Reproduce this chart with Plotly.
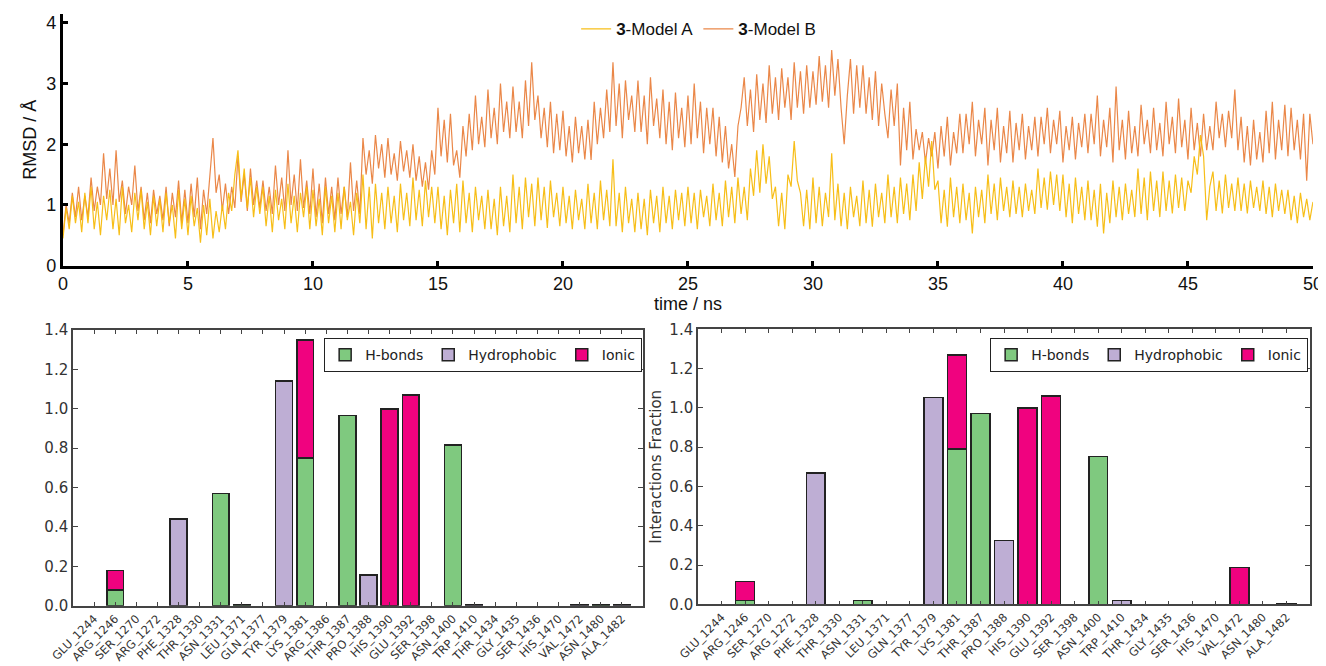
import plotly.graph_objects as go

# ---------------- RMSD time series (0.125 ns steps) ----------------
model_a_rows = [
    [0.45, 0.95, 0.6, 1.15, 0.7, 1.05, 0.55, 1.2],   # 0
    [0.7, 1.3, 0.6, 1.05, 0.5, 1.15, 0.75, 1.25],    # 1
    [0.6, 1.1, 0.5, 1.3, 0.7, 1.0, 0.55, 1.2],       # 2
    [0.75, 1.25, 0.6, 1.05, 0.5, 1.15, 0.65, 1.1],   # 3
    [0.55, 1.2, 0.7, 1.0, 0.45, 1.25, 0.6, 1.1],     # 4
    [0.5, 1.15, 0.65, 0.95, 0.38, 1.0, 0.5, 1.1],    # 5
    [0.45, 0.9, 0.55, 1.0, 0.6, 1.2, 0.9, 1.5],      # 6
    [1.9, 1.1, 1.6, 0.95, 1.45, 0.8, 1.3, 0.85],     # 7
    [1.3, 0.65, 1.15, 0.55, 1.25, 0.75, 1.1, 0.6],   # 8
    [1.35, 0.7, 1.15, 0.55, 1.2, 0.8, 1.3, 0.6],     # 9
    [1.25, 0.65, 1.1, 0.5, 1.3, 0.7, 1.15, 0.55],    # 10
    [1.2, 0.6, 1.3, 0.75, 1.05, 0.5, 1.2, 0.7],      # 11
    [1.5, 0.6, 1.3, 0.45, 1.35, 0.7, 1.2, 0.6],      # 12
    [1.3, 0.7, 1.15, 0.55, 1.35, 0.75, 1.2, 0.65],   # 13
    [1.45, 0.75, 1.25, 0.65, 1.4, 0.8, 1.3, 0.7],    # 14
    [1.3, 0.6, 1.15, 0.5, 1.25, 0.7, 1.35, 0.55],    # 15
    [1.4, 0.7, 1.2, 0.55, 1.3, 0.75, 1.15, 0.6],     # 16
    [1.25, 0.6, 1.1, 0.5, 1.3, 0.65, 1.15, 0.55],    # 17
    [1.5, 0.7, 1.3, 0.6, 1.45, 0.8, 1.35, 0.65],     # 18
    [1.45, 0.75, 1.3, 0.62, 1.4, 0.8, 1.2, 0.65],    # 19
    [1.3, 0.7, 1.15, 0.6, 1.25, 0.75, 1.1, 0.6],     # 20
    [1.35, 0.7, 1.2, 0.6, 1.4, 0.75, 1.25, 0.65],    # 21
    [1.75, 0.65, 1.2, 0.55, 1.3, 0.7, 1.1, 0.55],    # 22
    [1.2, 0.6, 1.1, 0.5, 1.25, 0.7, 1.15, 0.55],     # 23
    [1.3, 0.7, 1.15, 0.6, 1.25, 0.75, 1.2, 0.65],    # 24
    [1.3, 0.7, 1.2, 0.6, 1.25, 0.8, 1.15, 0.65],     # 25
    [1.35, 0.75, 1.2, 0.65, 1.4, 0.8, 1.3, 0.7],     # 26
    [1.45, 0.85, 1.3, 0.75, 1.6, 1.15, 1.9, 1.2],    # 27
    [2.0, 1.35, 1.8, 1.1, 1.3, 0.65, 1.2, 0.6],      # 28
    [1.5, 1.3, 2.05, 1.4, 1.2, 0.65, 1.25, 0.6],     # 29
    [1.45, 0.7, 1.3, 0.65, 1.2, 0.8, 1.85, 0.75],    # 30
    [1.35, 0.65, 1.2, 0.6, 1.3, 0.8, 1.15, 0.65],    # 31
    [1.4, 0.7, 1.25, 0.64, 1.35, 0.8, 1.2, 0.7],     # 32
    [1.5, 0.8, 1.3, 0.7, 1.45, 0.85, 1.35, 0.75],    # 33
    [1.5, 0.9, 1.7, 1.1, 1.8, 1.3, 2.05, 1.25],      # 34
    [1.4, 0.7, 1.25, 0.64, 1.45, 0.8, 1.3, 0.7],     # 35
    [1.35, 0.75, 1.2, 0.53, 1.3, 0.8, 1.25, 0.7],    # 36
    [1.5, 0.85, 1.35, 0.75, 1.45, 0.9, 1.3, 0.8],    # 37
    [1.4, 0.85, 1.3, 0.8, 1.35, 0.9, 1.25, 0.85],    # 38
    [1.6, 0.95, 1.45, 0.92, 1.55, 1.0, 1.5, 0.9],    # 39
    [1.5, 0.8, 1.35, 0.7, 1.45, 0.85, 1.3, 0.75],    # 40
    [1.4, 0.75, 1.25, 0.64, 1.35, 0.53, 1.2, 0.7],   # 41
    [1.4, 0.8, 1.3, 0.75, 1.35, 0.85, 1.25, 0.8],    # 42
    [1.6, 0.85, 1.45, 0.75, 1.55, 0.9, 1.4, 0.8],    # 43
    [1.55, 0.9, 1.4, 0.86, 1.5, 0.95, 1.45, 0.9],    # 44
    [1.4, 1.2, 1.8, 1.5, 2.15, 1.8, 0.75, 1.3],      # 45
    [1.55, 0.9, 1.4, 0.86, 1.5, 0.95, 1.35, 0.9],    # 46
    [1.45, 0.9, 1.35, 0.86, 1.4, 0.95, 1.3, 0.9],    # 47
    [1.4, 0.85, 1.3, 0.8, 1.35, 0.9, 1.25, 0.85],    # 48
    [1.25, 0.75, 1.15, 0.7, 1.2, 0.8, 1.1, 0.75],    # 49
    [1.05],                                          # 50
]
model_b_rows = [
    [0.5, 1.0, 0.7, 1.2, 0.8, 1.3, 0.75, 1.15],      # 0
    [0.8, 1.45, 0.9, 1.3, 1.0, 1.85, 1.1, 1.6],      # 1
    [1.0, 1.9, 1.05, 1.4, 0.85, 1.3, 1.0, 1.65],     # 2
    [0.9, 1.3, 0.75, 1.2, 0.7, 1.25, 0.85, 1.15],    # 3
    [0.75, 1.3, 0.65, 1.2, 0.8, 1.4, 0.7, 1.25],     # 4
    [0.7, 1.35, 0.8, 1.45, 0.6, 1.25, 0.85, 1.5],    # 5
    [2.1, 1.2, 1.5, 0.9, 1.35, 0.85, 1.3, 0.95],     # 6
    [1.8, 1.05, 1.5, 0.9, 1.6, 1.0, 1.4, 0.95],      # 7
    [1.4, 0.9, 1.3, 0.85, 1.65, 1.0, 1.45, 0.9],     # 8
    [1.9, 1.0, 1.5, 0.9, 1.75, 0.95, 1.4, 0.85],     # 9
    [1.6, 0.8, 1.35, 0.7, 1.45, 0.85, 1.3, 0.75],    # 10
    [1.45, 0.85, 1.3, 0.8, 1.7, 0.9, 1.4, 0.85],     # 11
    [2.1, 1.5, 1.9, 1.35, 2.15, 1.6, 2.0, 1.45],     # 12
    [2.1, 1.5, 1.85, 1.4, 2.05, 1.55, 1.9, 1.45],    # 13
    [2.0, 1.4, 1.8, 1.3, 1.7, 1.25, 1.9, 1.5],       # 14
    [2.6, 1.8, 2.4, 1.7, 2.5, 1.65, 1.9, 1.45],      # 15
    [2.3, 1.8, 2.5, 1.9, 2.8, 2.0, 2.45, 1.95],      # 16
    [2.9, 2.1, 2.6, 2.0, 3.0, 2.2, 2.7, 2.1],        # 17
    [2.95, 2.2, 2.7, 2.1, 3.05, 2.3, 3.35, 2.4],     # 18
    [2.8, 2.1, 2.6, 1.95, 2.7, 1.85, 2.5, 1.9],      # 19
    [2.55, 1.8, 2.3, 1.7, 2.45, 1.85, 2.3, 1.75],    # 20
    [2.4, 1.74, 2.7, 2.0, 2.6, 2.1, 2.9, 2.2],       # 21
    [3.35, 2.3, 3.0, 2.1, 3.05, 2.4, 2.8, 2.2],      # 22
    [3.05, 2.2, 2.8, 2.0, 3.1, 2.3, 2.75, 2.1],      # 23
    [2.9, 2.0, 2.7, 1.9, 2.85, 2.1, 2.6, 1.95],      # 24
    [2.8, 2.0, 3.0, 2.1, 2.7, 1.85, 2.6, 2.0],       # 25
    [2.6, 1.8, 2.45, 1.7, 2.3, 1.6, 2.0, 1.46],      # 26
    [2.3, 2.6, 3.1, 2.3, 2.9, 2.2, 3.15, 2.4],       # 27
    [3.0, 2.35, 3.3, 2.5, 3.1, 2.4, 3.25, 2.6],      # 28
    [3.1, 2.4, 3.35, 2.6, 3.2, 2.5, 3.3, 2.6],       # 29
    [3.2, 2.65, 3.45, 2.7, 3.3, 2.6, 3.55, 2.8],     # 30
    [3.4, 2.6, 2.0, 2.8, 3.4, 2.5, 3.3, 2.6],        # 31
    [3.3, 2.5, 3.1, 2.4, 3.2, 2.3, 3.0, 2.5],        # 32
    [2.1, 2.9, 2.3, 3.0, 1.65, 2.6, 1.9, 2.7],       # 33
    [1.75, 2.25, 1.9, 2.2, 1.7, 2.1, 1.8, 2.2],      # 34
    [1.6, 2.3, 1.8, 2.45, 1.65, 2.2, 1.85, 2.5],     # 35
    [1.85, 2.5, 2.0, 2.7, 1.8, 2.4, 2.0, 2.6],       # 36
    [1.65, 2.4, 1.9, 2.6, 1.7, 2.3, 1.85, 2.55],     # 37
    [1.7, 2.35, 1.9, 2.5, 1.75, 2.3, 1.9, 2.45],     # 38
    [1.8, 2.45, 2.0, 2.6, 1.85, 2.4, 2.0, 2.55],     # 39
    [1.7, 2.3, 1.9, 2.45, 1.75, 2.35, 1.95, 2.5],    # 40
    [1.85, 2.5, 2.0, 2.8, 1.8, 2.4, 1.95, 2.6],      # 41
    [1.7, 2.95, 1.9, 2.4, 1.75, 2.55, 1.85, 2.3],    # 42
    [1.8, 2.65, 2.0, 2.4, 1.85, 2.6, 1.9, 2.35],     # 43
    [1.8, 2.7, 2.0, 2.45, 1.85, 2.75, 1.95, 2.4],    # 44
    [1.75, 2.6, 1.9, 2.35, 1.8, 2.5, 1.9, 2.3],      # 45
    [1.9, 2.7, 2.1, 2.5, 1.95, 2.55, 2.1, 2.9],      # 46
    [1.9, 2.45, 1.7, 2.3, 1.65, 2.4, 1.75, 2.2],     # 47
    [1.7, 2.55, 1.85, 2.7, 1.75, 2.4, 1.9, 2.65],    # 48
    [1.8, 2.6, 1.9, 2.4, 1.75, 2.5, 1.4, 2.5],       # 49
    [2.0],                                           # 50
]
model_a = [v for row in model_a_rows for v in row]
model_b = [v for row in model_b_rows for v in row]
time_ns = [i * 0.125 for i in range(len(model_a))]

# ---------------- Interaction fractions ----------------
residues_left = ["GLU_1244", "ARG_1246", "SER_1270", "ARG_1272", "PHE_1328", "THR_1330",
                 "ASN_1331", "LEU_1371", "GLN_1377", "TYR_1379", "LYS_1381", "ARG_1386",
                 "THR_1387", "PRO_1388", "HIS_1390", "GLU_1392", "SER_1398", "ASN_1400",
                 "TRP_1410", "THR_1434", "GLY_1435", "SER_1436", "HIS_1470", "VAL_1472",
                 "ASN_1480", "ALA_1482"]
hbond_left = [None, 0.08, None, None, None, None, 0.57, 0.004, None, None, 0.75, None,
              0.965, None, None, None, None, 0.815, None, None, None, None, None, None,
              0.003, None]
hydro_left = [None, None, None, None, 0.44, None, None, None, None, 1.14, None, None,
              None, 0.155, None, None, None, None, 0.006, None, None, None, None, 0.003,
              None, 0.006]
ionic_left = [None, 0.10, None, None, None, None, None, None, None, None, 0.60, None,
              None, None, 1.00, 1.07, None, None, None, None, None, None, None, None,
              None, None]

residues_right = ["GLU_1244", "ARG_1246", "SER_1270", "ARG_1272", "PHE_1328", "THR_1330",
                  "ASN_1331", "LEU_1371", "GLN_1377", "TYR_1379", "LYS_1381", "THR_1387",
                  "PRO_1388", "HIS_1390", "GLU_1392", "SER_1398", "ASN_1400", "TRP_1410",
                  "THR_1434", "GLY_1435", "SER_1436", "HIS_1470", "VAL_1472", "ASN_1480",
                  "ALA_1482"]
hbond_right = [None, 0.02, None, None, None, None, 0.02, None, None, None, 0.79, 0.972,
               None, None, None, None, 0.752, None, None, None, None, None, None, None, None]
hydro_right = [None, None, None, None, 0.668, None, None, None, None, 1.052, None, None,
               0.325, None, None, None, None, 0.02, None, None, None, None, None, None, 0.005]
ionic_right = [None, 0.095, None, None, None, None, None, None, None, None, 0.48, None,
               None, 1.0, 1.06, None, None, None, None, None, None, None, 0.188, None, None]

C_A = "rgba(247,186,12,0.95)"
C_B = "rgba(232,122,52,0.9)"
C_H = "#7fc97f"
C_HY = "#beaed4"
C_I = "#f0027f"

fig = go.Figure()
fig.add_trace(go.Scatter(x=time_ns, y=model_b, mode="lines", name="<b>3</b>-Model B",
                         line=dict(color=C_B, width=1.2), xaxis="x", yaxis="y",
                         legend="legend", legendrank=2))
fig.add_trace(go.Scatter(x=time_ns, y=model_a, mode="lines", name="<b>3</b>-Model A",
                         line=dict(color=C_A, width=1.2), xaxis="x", yaxis="y",
                         legend="legend", legendrank=1))

edge = dict(color="#222222", width=1.5)
for (cats, hb, hy, io, xa, ya, lg) in [
    (residues_left, hbond_left, hydro_left, ionic_left, "x2", "y2", "legend2"),
    (residues_right, hbond_right, hydro_right, ionic_right, "x3", "y3", "legend3"),
]:
    fig.add_trace(go.Bar(x=cats, y=hb, name="H-bonds", marker=dict(color=C_H, line=edge),
                         xaxis=xa, yaxis=ya, legend=lg))
    fig.add_trace(go.Bar(x=cats, y=hy, name="Hydrophobic", marker=dict(color=C_HY, line=edge),
                         xaxis=xa, yaxis=ya, legend=lg))
    fig.add_trace(go.Bar(x=cats, y=io, name="Ionic", marker=dict(color=C_I, line=edge),
                         xaxis=xa, yaxis=ya, legend=lg))

top_font = dict(family="Liberation Sans, Arial, sans-serif", size=18, color="#111111")
bar_font = dict(family="DejaVu Sans, sans-serif", size=15, color="#333333")
cat_font = dict(family="DejaVu Sans, sans-serif", size=11.5, color="#333333")

bar_x_common = dict(type="category", tickangle=-45, tickfont=cat_font, showline=True,
                    mirror="ticks", linecolor="#444444", linewidth=1.5, ticks="inside",
                    ticklen=4, tickcolor="#444444", showgrid=False, zeroline=False,
                    automargin=False)
bar_y_common = dict(range=[0, 1.4], tickvals=[0, 0.2, 0.4, 0.6, 0.8, 1.0, 1.2, 1.4],
                    ticktext=["0.0", "0.2", "0.4", "0.6", "0.8", "1.0", "1.2", "1.4"],
                    tickfont=bar_font, showline=True, mirror="ticks", linecolor="#444444",
                    linewidth=1.5, ticks="inside", ticklen=5, tickcolor="#444444",
                    showgrid=False, zeroline=False, automargin=False)

legend_bar = dict(orientation="h", yanchor="top", xanchor="right", traceorder="normal",
                  bordercolor="#222222", borderwidth=1.2, bgcolor="white",
                  font=dict(family="DejaVu Sans, sans-serif", size=14, color="#222222"),
                  itemwidth=30, tracegroupgap=0)

# the page places the figure 8 px from the top-left corner, so the figure is 8 px smaller
W, H = 1318, 658

fig.update_layout(
    width=W, height=H,
    margin=dict(l=0, r=0, t=0, b=0),
    paper_bgcolor="white", plot_bgcolor="white",
    barmode="stack", bargap=0.2,
    xaxis=dict(domain=[0.0417, 0.9901], anchor="y", range=[0, 50],
               tickvals=list(range(0, 51, 5)), tickfont=top_font,
               title=dict(text="time / ns", font=top_font, standoff=0),
               showline=True, linecolor="black", linewidth=3, ticks="inside",
               ticklen=5, tickwidth=2.5, tickcolor="black", showgrid=False, zeroline=False,
               automargin=False),
    yaxis=dict(domain=[0.6084, 0.9915], anchor="x", range=[0, 4.15],
               tickvals=[0, 1, 2, 3, 4], tickfont=top_font,
               title=dict(text="RMSD / Å", font=top_font, standoff=6),
               showline=True, linecolor="black", linewidth=3, ticks="inside",
               ticklen=5, tickwidth=2.5, tickcolor="black", showgrid=False, zeroline=False,
               automargin=False),
    xaxis2=dict(domain=[0.0493, 0.4818], anchor="y2", range=[-1, len(residues_left)],
                categoryorder="array", categoryarray=residues_left, **bar_x_common),
    yaxis2=dict(domain=[0.0916, 0.5106], anchor="x2", **bar_y_common),
    xaxis3=dict(domain=[0.5235, 0.9879], anchor="y3", range=[-1, len(residues_right)],
                categoryorder="array", categoryarray=residues_right, **bar_x_common),
    yaxis3=dict(domain=[0.0938, 0.5117], anchor="x3",
                title=dict(text="Interactions Fraction",
                           font=dict(family="DejaVu Sans, sans-serif", size=15, color="#333333"),
                           standoff=4),
                **bar_y_common),
    legend=dict(orientation="h", x=0.524, y=0.995, xanchor="center", yanchor="top",
                bgcolor="rgba(0,0,0,0)", font=dict(family="Liberation Sans, Arial, sans-serif",
                                                    size=17, color="#111111"),
                itemwidth=30),
    legend2=dict(x=0.481, y=0.4985, **legend_bar),
    legend3=dict(x=0.9863, y=0.4985, **legend_bar),
)

fig.write_html("out.html")
